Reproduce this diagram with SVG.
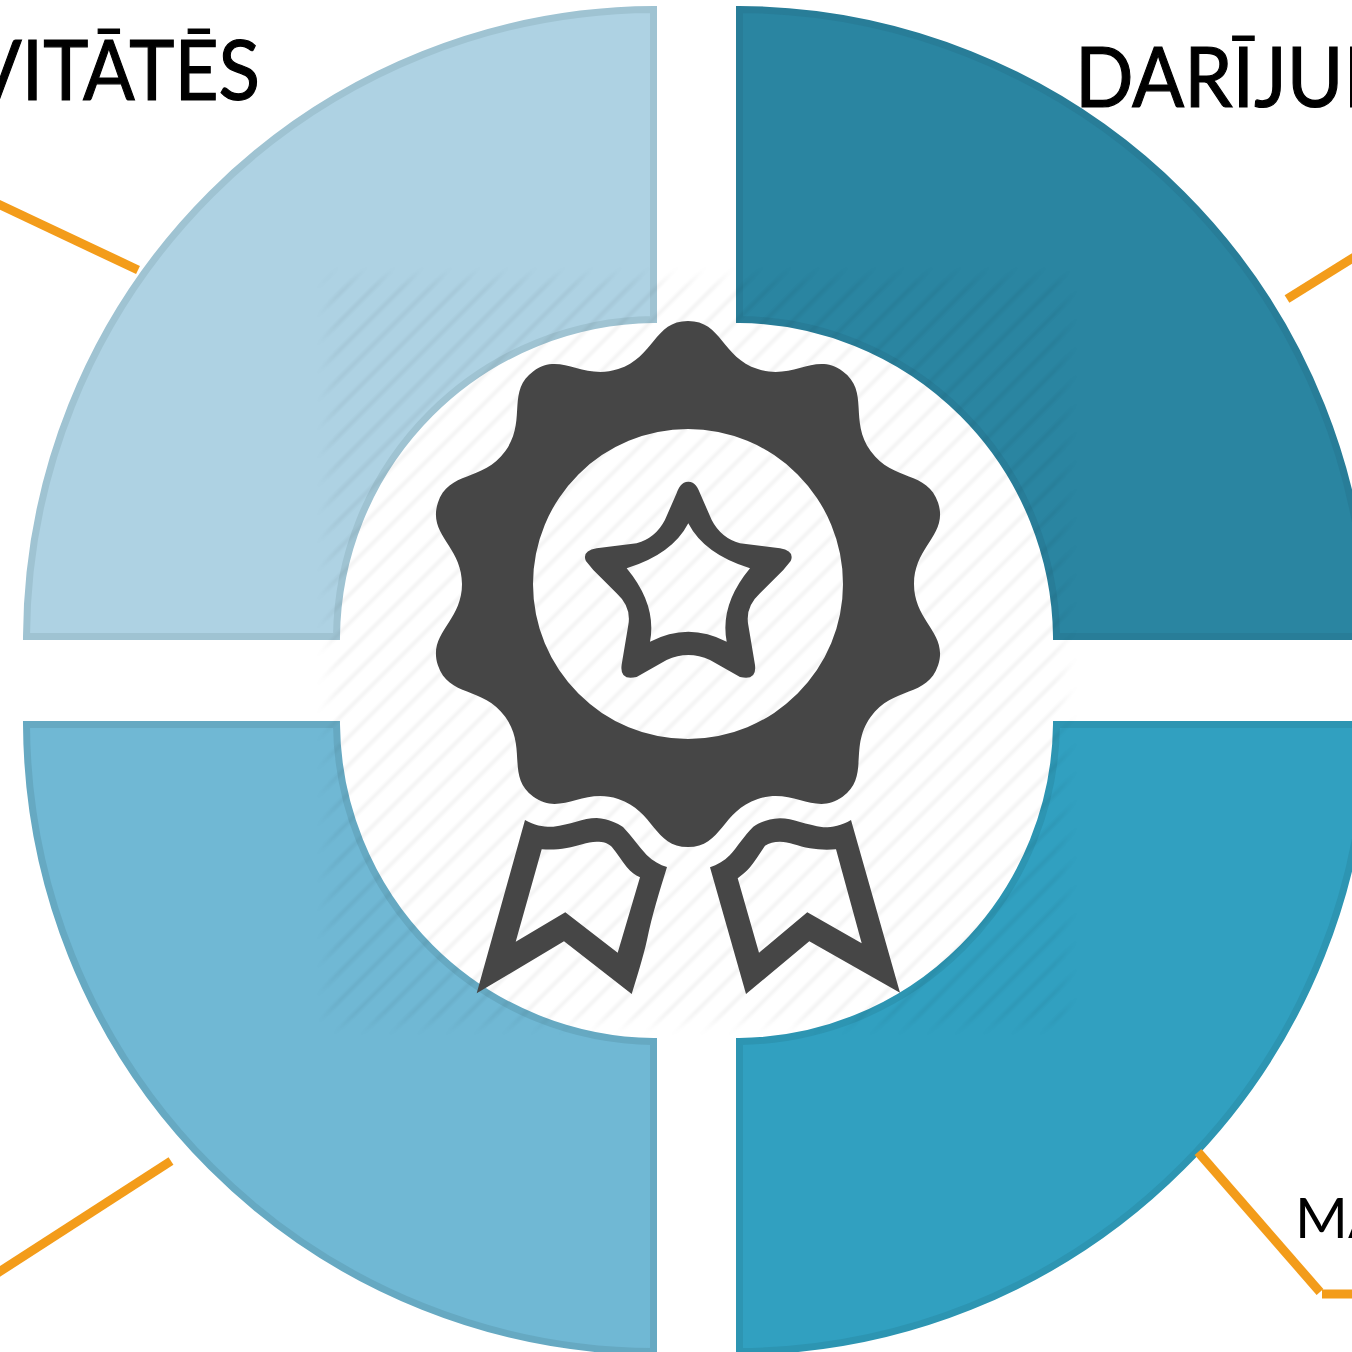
<svg xmlns="http://www.w3.org/2000/svg" width="1352" height="1352" viewBox="0 0 1352 1352">
<style>
.q{stroke-width:7;stroke-linejoin:miter}
.lbl{font-family:"Lato","Open Sans","Liberation Sans",sans-serif;fill:#000;stroke:#000;stroke-width:1.2}
.sm{stroke-width:0}
.ln{fill:none;stroke:#f39c1a;stroke-width:9}
.ic{fill:#464646;fill-rule:evenodd}
</style>
<defs>
<pattern id="h" width="20" height="20" patternUnits="userSpaceOnUse" patternTransform="translate(330 272) rotate(45)"><rect x="0" y="0" width="4" height="20" fill="#000" fill-opacity=".045"/></pattern>
<filter id="b" x="-2%" y="-2%" width="104%" height="104%"><feGaussianBlur stdDeviation="1.1"/></filter>
<filter id="bm" x="-5%" y="-5%" width="110%" height="110%"><feGaussianBlur stdDeviation="7"/></filter>
<mask id="fade" maskUnits="userSpaceOnUse" x="300" y="250" width="800" height="800"><rect x="328" y="278" width="738" height="746" fill="#fff" filter="url(#bm)"/></mask>
</defs>
<rect width="1352" height="1352" fill="#fff"/>
<g id="segment-top-left"><path class="q" fill="#aed2e3" stroke="#9fc3d2" d="M26.5 636.5A630.5 630.5 0 0 1 653.5 9.5V319.5A320.5 320.5 0 0 0 336.5 636.5Z"/></g>
<g id="segment-top-right"><path class="q" fill="#2a85a1" stroke="#287d98" d="M739.5 9.5A630.5 630.5 0 0 1 1366.5 636.5H1056.5A320.5 320.5 0 0 0 739.5 319.5Z"/></g>
<g id="segment-bottom-left"><path class="q" fill="#70b8d4" stroke="#66a9c2" d="M26.5 724.5H336.5A320.5 320.5 0 0 0 653.5 1041.5V1351.5A630.5 630.5 0 0 1 26.5 724.5Z"/></g>
<g id="segment-bottom-right"><path class="q" fill="#31a0c0" stroke="#2d95b2" d="M1056.5 724.5H1366.5A630.5 630.5 0 0 1 739.5 1351.5V1041.5A320.5 320.5 0 0 0 1056.5 724.5Z"/></g>
<g mask="url(#fade)"><rect id="hatch" x="310" y="260" width="774" height="782" fill="url(#h)" filter="url(#b)"/></g>
<g id="connectors">
<path class="ln" d="M-4 203L138 270"/>
<path class="ln" d="M1287 299L1356 256"/>
<path class="ln" d="M-4 1274L171 1161"/>
<path class="ln" d="M1198 1152L1320 1292"/>
<path class="ln" d="M1322 1294H1356"/>
</g>
<g id="badge">
<path class="ic" d="M688 321C722 321 721.7 357.4 757.8 369.1C793.9 380.8 815.1 351.2 842.6 371.2C870.1 391.2 848.5 420.5 870.8 451.2C893.1 481.9 927.6 470.4 938.1 502.7C948.6 535 914 546 914 584C914 622 948.6 633 938.1 665.3C927.6 697.6 893.1 686.1 870.8 716.8C848.5 747.5 870.1 776.8 842.6 796.8C815.1 816.8 793.9 787.2 757.8 798.9C721.7 810.6 722 847 688 847C654 847 654.3 810.6 618.2 798.9C582.1 787.2 560.9 816.8 533.4 796.8C505.9 776.8 527.5 747.5 505.2 716.8C482.9 686.1 448.4 697.6 437.9 665.3C427.4 633 462 622 462 584C462 546 427.4 535 437.9 502.7C448.4 470.4 482.9 481.9 505.2 451.2C527.5 420.5 505.9 391.2 533.4 371.2C560.9 351.2 582.1 380.8 618.2 369.1C654.3 357.4 654 321 688 321ZM843 584A155 155 0 1 0 533 584A155 155 0 1 0 843 584Z"/>
<path class="ic" d="M688.3 481.7C695 481.7 698 488 700 493.3L711.7 520Q721 538 740 543.3L780 548.3Q795 551 790.7 561L783.3 570L760 593.3Q745 607 748.3 625L755 665Q757 681 740 677L710 660Q699 655 688.3 655Q677.6 655 666.6 660L636.6 677Q619.6 681 621.6 665L628.3 625Q631.6 607 616.6 593.3L593.3 570L585.9 561Q581.6 551 596.6 548.3L636.6 543.3Q655.6 538 664.9 520L676.6 493.3C678.6 488 681.6 481.7 688.3 481.7ZM688.3 523.3Q704.2 554.2 750 568.3Q719.6 605 726.7 641.7Q688.3 621.7 650 641.7Q657 605 626.7 568.3Q672.4 554.2 688.3 523.3Z"/>
<path class="ic" d="M525 820C535 826 545 827 553.3 826.7C570 825 583 818 596.7 818C609 819 617 823 623 827C632 836 638 846 646.7 855C653 861 660 865 667 867C660 890 652 915 647 940C643 958 636 980 631.7 994L564 941.3L476.7 993.3ZM541.7 849.3C551 850 558 849.5 566.7 848C578 846 587 842 596.7 841.7C603 841.7 608 843 611.7 846.7C617 853 622 861 626.7 867C631 872 635 875 640 877.3L617.7 952.7L565.3 912.3L515.7 941.7Z"/>
<path class="ic" d="M851 820C841 826 831 827.5 823.3 827.3C806 825 793 818.3 780 818.3C767 819 759 823 753.3 826.7C744 836 738 846 730 855C724 861 717 865 710 867.3L746 994L809.3 941.3L900 992.7ZM836 849.3C827 850 818 849.7 810 848.3C798 846 789 842 780 841.7C774 841.7 769 843 765 845.7C760 853 755 861 750 867.3C746 872 742 875 737.7 878.3L759 952.7L807.3 912.3L861.7 943.3Z"/>
</g>
<g id="labels">
<text class="lbl" x="-30" y="100" font-size="84" textLength="290" lengthAdjust="spacingAndGlyphs">VITĀTĒS</text>
<text class="lbl" x="1075" y="107" font-size="84" textLength="340" lengthAdjust="spacingAndGlyphs">DARĪJUM</text>
<text class="lbl sm" x="1295" y="1238" font-size="57">MA</text>
</g>
</svg>
